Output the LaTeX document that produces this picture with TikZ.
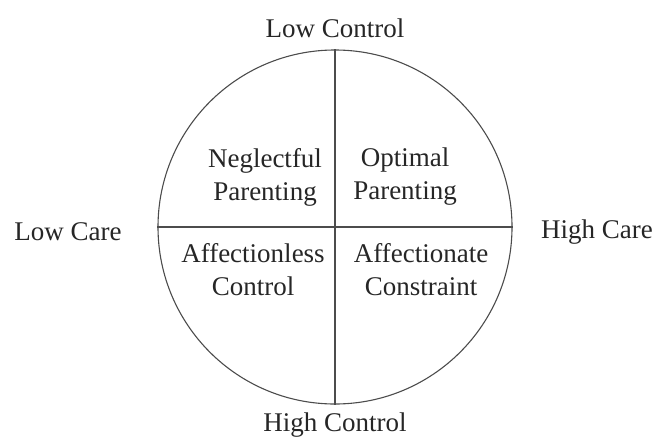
\documentclass[tikz,border=0pt]{standalone}
\usepackage{fontspec}
\setmainfont{Liberation Serif}
\begin{document}
\begin{tikzpicture}[x=1pt,y=-1pt,
  lbl/.style={font=\fontsize{27}{33}\selectfont, text=black!85, inner sep=0pt, align=center},
  edge/.style={draw=black!70, line width=1.1pt}]
\useasboundingbox (0,0) rectangle (655,439);
\node[edge, circle, minimum size=354pt, inner sep=0pt] (c) at (335,227) {};
\coordinate (t) at (c.north);
\coordinate (b) at (c.south);
\coordinate (l) at (c.west);
\coordinate (r) at (c.east);
\draw[edge] (t) -- (b);
\draw[edge] (l) -- (r);
\node[lbl] (lowctl) at (335,28) {Low Control};
\node[lbl] (highctl) at (335,425) {High Control};
\node[lbl] (lowcare) at (68,232) {Low Care};
\node[lbl] (highcare) at (597,232) {High Care};
\node[lbl] (neg) at (265,177) {Neglectful\\Parenting};
\node[lbl] (opt) at (405,177) {Optimal\\Parenting};
\node[lbl] (affl) at (253,270) {Affectionless\\Control};
\node[lbl] (affc) at (421,270) {Affectionate\\Constraint};
\end{tikzpicture}
\end{document}
